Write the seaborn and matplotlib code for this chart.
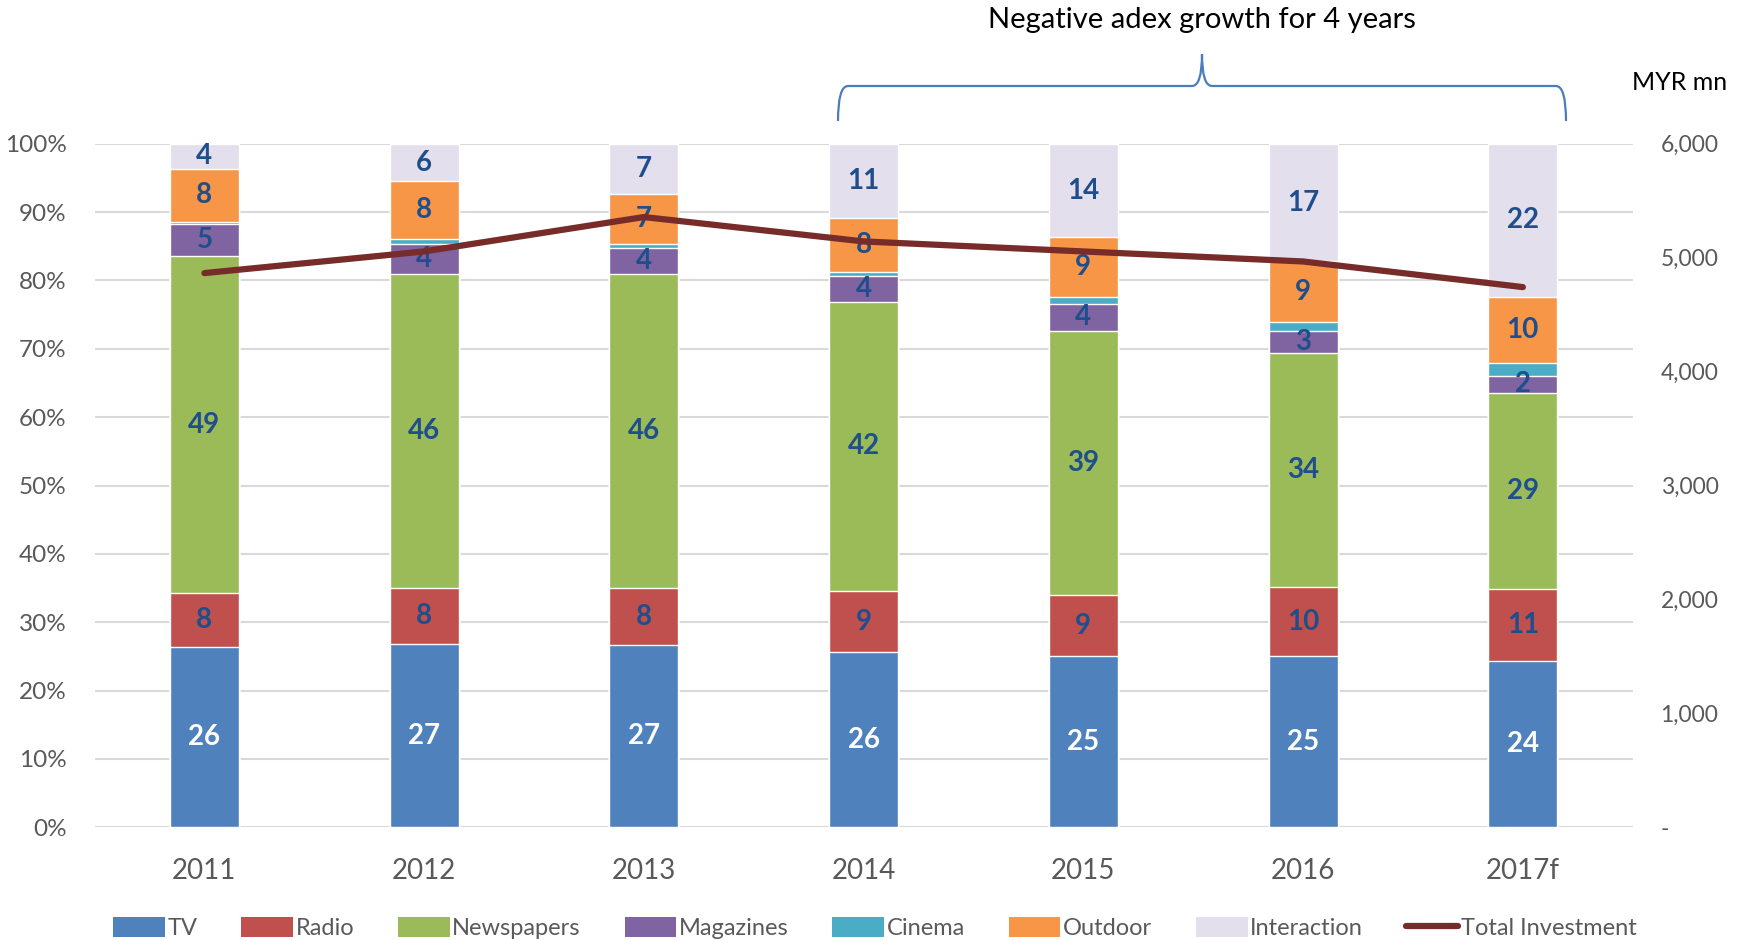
import numpy as np
import matplotlib
matplotlib.use("Agg")
import matplotlib.pyplot as plt
from matplotlib.path import Path
from matplotlib.patches import PathPatch, Patch
from matplotlib.lines import Line2D
import seaborn as sns

years = ["2011", "2012", "2013", "2014", "2015", "2016", "2017f"]
tv = [26.3, 26.8, 26.6, 25.6, 25.0, 25.0, 24.3]
radio = [7.9, 8.2, 8.4, 9.0, 9.0, 10.1, 10.6]
newspapers = [49.4, 46.0, 46.0, 42.3, 38.6, 34.3, 28.7]
magazines = [4.7, 4.4, 3.7, 3.7, 4.0, 3.2, 2.4]
cinema = [0.3, 0.7, 0.6, 0.7, 1.0, 1.3, 2.0]
outdoor = [7.7, 8.4, 7.3, 7.9, 8.7, 8.9, 9.6]
interaction = [3.7, 5.5, 7.4, 10.8, 13.7, 17.2, 22.4]
total_investment = [4865, 5055, 5357, 5143, 5055, 4967, 4742]

media = ["TV", "Radio", "Newspapers", "Magazines", "Cinema", "Outdoor", "Interaction"]
series = [tv, radio, newspapers, magazines, cinema, outdoor, interaction]
colors = ["#4F81BD", "#C0504D", "#9BBB59", "#8064A2", "#4BACC6", "#F79646", "#E4DFEC"]
line_color = "#772C2A"
label_color = "#1F4E8C"
gray = "#595959"

sns.set_theme(style="white")
plt.rcParams["font.family"] = ["Lato", "DejaVu Sans"]

fig = plt.figure(figsize=(17.5, 9.4), dpi=100)
ax = fig.add_axes([0.054, 0.12, 0.879, 0.727])

# stacked bars: draw cumulative totals from the top segment down
cum = np.cumsum(np.array(series), axis=0)
for k in range(len(series) - 1, -1, -1):
    sns.barplot(x=years, y=cum[k], order=years, color=colors[k], saturation=1,
                width=0.315, ax=ax, zorder=2)

# segment labels
for k, name in enumerate(media):
    if name == "Cinema":
        continue
    for i in range(len(years)):
        val = series[k][i]
        bottom = cum[k][i] - val
        ax.text(i, bottom + val / 2, f"{int(val + 0.5)}", ha="center", va="center",
                fontsize=20, fontweight="bold",
                color="white" if name == "TV" else label_color, zorder=5)

ax.set_xlim(-0.5, len(years) - 0.5)
ax.set_ylim(0, 100)
ax.set_yticks(np.arange(0, 101, 10))
ax.set_yticklabels([f"{v}%" for v in range(0, 101, 10)], fontsize=17.5, color=gray)
ax.set_xticks(range(len(years)))
ax.set_xticklabels(years, fontsize=20, color=gray)
ax.tick_params(axis="x", pad=22, length=0)
ax.tick_params(axis="y", length=0, pad=20)
ax.grid(axis="y", color="#D9D9D9", lw=1.5, zorder=0)
ax.set_axisbelow(True)
ax.set_xlabel("")
ax.set_ylabel("")
for s in ax.spines.values():
    s.set_visible(False)

ax2 = ax.twinx()
sns.lineplot(x=np.arange(len(years)), y=total_investment, color=line_color, lw=4.5,
             ax=ax2, zorder=6)
ax2.set_ylim(0, 6000)
ax2.set_yticks(np.arange(0, 6001, 1000))
ax2.set_yticklabels(["-"] + [f"{v:,}" for v in range(1000, 6001, 1000)],
                    fontsize=16.5, color=gray)
ax2.tick_params(axis="y", length=0, pad=20)
ax.set_xlim(-0.5, len(years) - 0.5)
for s in ax2.spines.values():
    s.set_visible(False)
ax2.grid(False)

fig.text(0.987, 0.912, "MYR mn", ha="right", va="center", fontsize=18, color="black")
fig.text(0.687, 0.979, "Negative adex growth for 4 years", ha="center", va="center",
         fontsize=21, color="black")

# curly brace over 2014-2017f
W, H = 1750, 940
L, R, C = 838, 1566, 1202
yb, yh, yt, r = 121, 86, 54, 10
pts = [(L, yb), (L, yh), (L + r, yh), (C - r, yh), (C, yh), (C, yt),
       (C, yh), (C + r, yh), (R - r, yh), (R, yh), (R, yb)]
codes = [Path.MOVETO, Path.CURVE3, Path.CURVE3, Path.LINETO, Path.CURVE3, Path.CURVE3,
         Path.CURVE3, Path.CURVE3, Path.LINETO, Path.CURVE3, Path.CURVE3]
verts = [(x / W, 1 - y / H) for x, y in pts]
fig.patches.append(PathPatch(Path(verts, codes), transform=fig.transFigure,
                             fill=False, edgecolor="#4A7EBB", lw=1.6))

handles = [Patch(facecolor=c, edgecolor="none") for c in colors]
handles.append(Line2D([0], [0], color=line_color, lw=4.5))
fig.legend(handles, media + ["Total Investment"], loc="lower center",
           bbox_to_anchor=(0.5, -0.022), ncol=8, frameon=False, fontsize=17,
           labelcolor=gray, handlelength=2.2, handleheight=0.9, handletextpad=0.1,
           columnspacing=1.85)

fig.savefig("out.png", dpi=100)
